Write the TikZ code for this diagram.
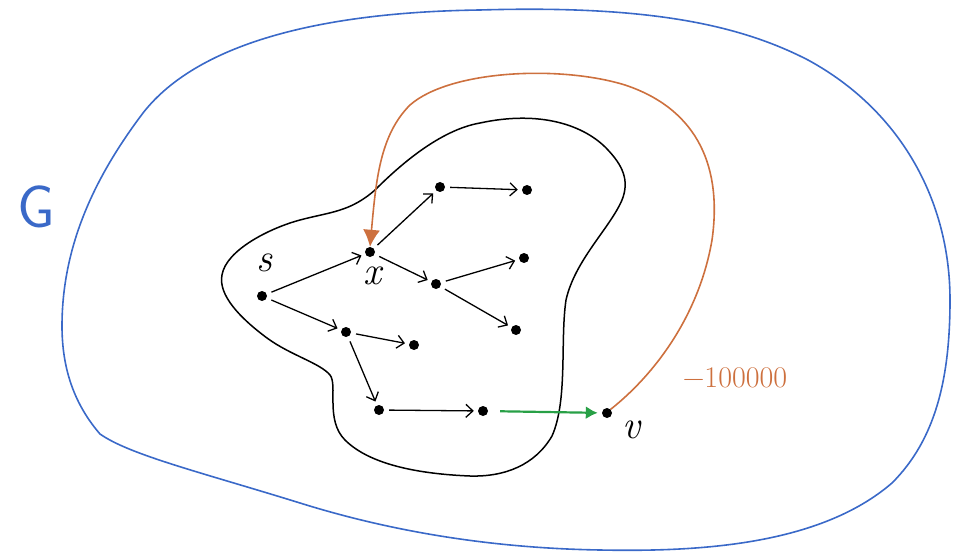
\documentclass[tikz,border=0pt]{standalone}
\usetikzlibrary{arrows.meta}
\definecolor{gblue}{RGB}{58,105,200}
\definecolor{gorange}{RGB}{205,112,62}
\definecolor{ggreen}{RGB}{40,160,70}
\tikzset{
  dot/.style={circle,fill=black,inner sep=0pt,minimum size=10pt},
  arr/.style={line width=1.3pt,-{Straight Barb[length=7pt,width=13pt,line width=1.3pt]},shorten <=5pt,shorten >=4pt},
  lab/.style={font=\itshape\fontsize{40}{40}\selectfont},
}
\begin{document}
\begin{tikzpicture}[x=1pt,y=-1pt]
\useasboundingbox (0,0) rectangle (955,556);
% outer graph G
\draw[gblue,line width=1.6pt]
 (480,10) .. controls (650,5) and (740,25) .. (808,60)
 .. controls (900,110) and (950,200) .. (950,300)
 .. controls (950,380) and (935,440) .. (892,483)
 .. controls (820,545) and (700,552) .. (600,550)
 .. controls (480,548) and (380,528) .. (300,503)
 .. controls (200,472) and (130,455) .. (100,434)
 .. controls (75,405) and (62,370) .. (62,326)
 .. controls (62,240) and (100,170) .. (143,113)
 .. controls (200,40) and (330,12) .. (480,10) -- cycle;
\node[gblue,font=\sffamily\fontsize{60}{60}\selectfont] (G) at (36,207) {G};
% inner blob
\draw[black,line width=1.5pt]
 (480,123) .. controls (540,110) and (585,125) .. (608,150)
 .. controls (622,165) and (630,180) .. (622,200)
 .. controls (610,228) and (575,260) .. (566,300)
 .. controls (560,340) and (568,400) .. (552,436)
 .. controls (535,465) and (505,477) .. (470,476)
 .. controls (420,474) and (370,465) .. (345,440)
 .. controls (325,420) and (338,385) .. (330,375)
 .. controls (320,363) and (290,355) .. (267,338)
 .. controls (240,318) and (218,295) .. (222,275)
 .. controls (226,250) and (270,228) .. (300,220)
 .. controls (330,212) and (350,212) .. (375,190)
 .. controls (400,165) and (440,130) .. (480,123) -- cycle;
% vertices
\node[dot] (s) at (262,296) {};
\node[dot] (x) at (370,252) {};
\node[dot] (a) at (440,187) {};
\node[dot] (b) at (527,190) {};
\node[dot] (c) at (436,284) {};
\node[dot] (d) at (524,258) {};
\node[dot] (e) at (516,330) {};
\node[dot] (f) at (346,332) {};
\node[dot] (g) at (414,345) {};
\node[dot] (h) at (379,410) {};
\node[dot] (i) at (483,411) {};
\node[dot] (v) at (607,413) {};
% labels
\node[lab] (ls) at (264,263) {s};
\node[lab] (lx) at (372,276) {x};
\node[lab] (lv) at (631,430) {v};
\node[gorange,font=\fontsize{30}{30}\selectfont] (w) at (735,378) {−100000};
% edges
\draw[arr] (s) -- (x);
\draw[arr] (s) -- (f);
\draw[arr] (x) -- (a);
\draw[arr] (x) -- (c);
\draw[arr] (a) -- (b);
\draw[arr] (c) -- (d);
\draw[arr] (c) -- (e);
\draw[arr] (f) -- (g);
\draw[arr] (f) -- (h);
\draw[arr] (h) -- (i);
\draw[ggreen,line width=2.2pt,-{Latex[length=12pt,width=13pt]},shorten <=12pt,shorten >=4pt] (i) -- (v);
\draw[gorange,line width=1.6pt,-{Latex[length=17pt,width=17pt]}]
 (v.north east) .. controls (660,370) and (700,310) .. (712,240)
 .. controls (722,170) and (700,110) .. (625,85)
 .. controls (560,65) and (450,70) .. (410,105)
 .. controls (380,135) and (376,180) .. (x.north);
\end{tikzpicture}
\end{document}
